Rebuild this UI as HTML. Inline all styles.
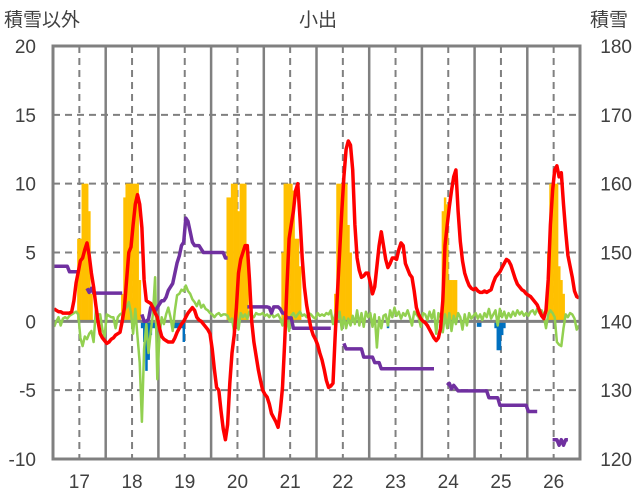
<!DOCTYPE html>
<html><head><meta charset="utf-8">
<style>
html,body{margin:0;padding:0;background:#fff;}
svg{display:block;font-family:"Liberation Sans","Noto Sans CJK JP",sans-serif;}
</style></head>
<body>
<svg id="chart" width="636" height="501" viewBox="0 0 636 501" xmlns="http://www.w3.org/2000/svg">
<rect x="0" y="0" width="636" height="501" fill="#fff"/>
<text x="4" y="26" font-size="19" fill="#404040">積雪以外</text>
<text x="318" y="26" font-size="19" fill="#404040" text-anchor="middle">小出</text>
<text x="590" y="26" font-size="19" fill="#404040">積雪</text>
<g id="grid"></g>
<g id="bars"></g>
<g id="lines"></g>
<g id="axes"></g>
</svg>
<script>
const dayLabels=["17","18","19","20","21","22","23","24","25","26"];
const leftTicks=[20,15,10,5,0,-5,-10];
const rightTicks=[180,170,160,150,140,130,120];
const temperature=[
0.9,0.8,0.7,0.7,0.6,0.6,0.6,0.6,0.7,1.5,2.8,3.6,4.4,4.6,5.2,5.7,4.8,3.5,2.5,1.2,0,-0.9,-1.2,-1.4,
-1.6,-1.5,-1.3,-1.2,-1.0,-0.9,-0.8,0,1,3,5,5.4,7,8.5,9.2,8.5,6.8,3,1.5,1.4,1.3,1.0,0.6,0.3,
-0.5,-1.1,-1.3,-1.4,-1.5,-1.5,-1.5,-1.2,-0.8,-0.5,-0.2,0,0.3,0.6,0.8,1.0,0.8,0.3,0.1,0,-0.2,-0.4,-0.6,-0.9,
-2,-3.5,-4.8,-5,-6.5,-7.8,-8.6,-7.5,-4.5,-2.3,-1,1,3.5,4.5,5,5.5,5.5,3,0,-1.5,-2.5,-3.5,-4.3,-5,
-5.3,-5.5,-6,-6.7,-7,-7.3,-7.7,-6.5,-4.8,-1.5,2.5,6,7,8,9.5,10,7.5,4.6,2.5,1.2,0.3,-0.5,-1.0,-1.3,
-1.7,-2.3,-2.8,-3.5,-4.3,-4.8,-4.7,-4.5,-1,2,5,8,10.5,12.5,13.1,12.8,11,7,4.6,3.7,3.2,3.3,3.5,3.5,
2.8,2.0,2.5,4,5.5,6.5,5.5,4.5,3.9,4.2,4.6,4.6,4.5,5.2,5.7,5.5,4.2,3.8,3.4,3.2,2.2,1.0,0.5,0.2,
0,-0.1,-0.3,-0.6,-0.9,-1.2,-1.4,-1.2,-0.5,1.5,5.5,7,8.3,9.5,10.5,11,8,5.8,4.4,3.5,3,2.6,2.4,2.3,
2.4,2.2,2.1,2.1,2.2,2.1,2.2,2.3,2.8,3.2,3.4,3.6,3.9,4.2,4.5,4.4,4.1,3.6,3.1,2.7,2.5,2.3,2.2,2.0,
1.9,1.8,1.6,1.4,1.2,0.8,0.4,0.2,0.8,3,7,9.5,11,11.3,10.5,10.8,8.5,6.5,4.8,4,3.2,2.2,1.8,1.7];
const wind=[
-0.4,0,0.3,-0.3,0.2,0.3,0.2,0.4,0.5,0.6,0.7,0.5,-1.2,-1.8,-1.1,-1.3,-0.9,-0.7,-1.5,0.8,0.5,0.5,-0.6,-1.1,
0.5,0.4,0.3,0.3,-0.5,0.3,0.5,0.6,0.8,1.0,1.4,0.6,-0.9,0.9,-1.1,-3,-7.3,-2,-0.2,-2.3,-0.8,0.5,3.2,-4.2,
-1,0.3,-0.2,0.5,1,0.3,-0.7,0.8,1.9,2,2.3,2.2,2.6,2.2,2.0,1.6,1.4,1.1,1.5,1.0,1.2,0.9,0.8,0.6,
0.5,0.3,0.5,0.6,0.4,0.5,0.5,0.4,0,0.2,-0.8,0.5,-0.6,0.6,0.3,0.5,0.2,0.7,0.4,0.3,0.6,0.5,0.5,0.6,
0.4,0.5,0.3,0.6,0.3,0.4,0.5,0.2,-0.3,0.4,0.2,-0.7,0.4,0.6,0.3,0.5,0.7,0.4,0.5,0.3,0.6,0.5,0.3,0.2,
0.6,0.4,0.5,0.4,0.6,0.5,0.8,-0.2,0.5,0.2,0.7,-0.6,0.3,-0.5,0.2,-0.3,0.4,-0.2,0.8,-0.3,0.6,-0.4,0.7,0.3,
0.6,-0.4,0.5,-1.9,0.3,-0.5,0.4,0.5,-0.3,0.8,0.3,1.0,0.4,0.7,0.2,0.6,0.4,0.8,0.3,-0.3,0.7,0.5,0.3,-0.4,
0.6,0.5,0.1,0.7,0.2,0.8,-0.9,0.6,0.3,-0.8,0.5,-0.5,0.6,-0.7,0.4,-0.2,0.6,0.3,-0.6,0.5,-0.3,0.6,0.2,0.4,
0.6,0.2,0.5,0.1,0.6,0.3,0.9,0.2,0.5,0.8,-0.3,0.9,0.3,0.7,0.2,0.6,0.3,0.7,0.4,0.8,0.5,0.7,0.4,0.6,
0.4,0.7,0.8,0.5,0.9,0.6,0.8,0.4,-0.5,0.5,0.8,0.6,0.3,-1.5,-1.7,-1.8,-0.5,0.5,0.3,0.6,0.5,0.2,-0.6,-0.3];
// sunshine bars: {hour: value}
const sunHours=[11,12,13,14,15,16,17, 31,32,33,34,35,36,37,38,39, 79,80,81,82,83,84,85,86,87,88, 104,105,106,107,108,109,110,111,112, 128,129,130,131,132,133,134,135, 177,178,179,180,181,182,183, 225,226,227,228,229,230,231,232];
const sunValues=[6,6,10,10,10,8,2, 2,9,10,10,10,10,10,10,3, 9,9,10,10,10,8,10,10,10,5, 5,10,10,10,10,9.5,6,6,4, 2,10,10,10,10,10,7,5, 8,9,8.5,3,3,3,3, 5,10,10,10,10,4,3,2];
const precipHours=[40,41,42,43,44,45,46,47,54,55,56,57,58,59,152,193,194,201,202,203,204,205];
const precipValues=[-0.5,-1.5,-3.6,-2.8,-1,-0.5,-0.5,-0.3,-0.5,-0.5,-0.5,-0.5,-0.5,-1.5,-0.5,-0.4,-0.4,-0.5,-2.1,-2.1,-1,-0.5];
const N=null;
const snowDepth=[
148,148,148,148,148,148,148,147.2,147.2,147.2,147.2,147.2,N,N,N,144.8,144.2,144.8,144.1,144.1,144.1,144.1,144.1,144.1,
144.1,144.1,144.1,144.1,144.1,144.1,144.1,144.1,N,N,N,N,N,N,N,N,141,140,140,140.3,142,142,141.5,142,
142.5,143,143,143.5,144.5,145,145.5,147,148.5,149.5,151,151.5,155,154.5,153,151.5,151,151,151,150.5,150,150,150,150,
150,150,150,150,150,150,149.2,149.2,N,N,N,N,N,N,N,N,142.1,142.1,142.1,142.1,142.1,142.1,142.1,142.1,
142.1,142.1,142,141.2,142.1,142.1,142.1,141.8,141.2,141.2,140.5,140.5,140.5,139,139,139,139,139,139,139,139,139,
139,139,139,139,139,139,139,139,139,N,N,N,N,N,136.8,136,136,136,136,136,136,136,136,134.8,
134.8,134.8,134.8,134.8,134,134,134,133.1,133.1,133.1,133.1,133.1,133.1,133.1,133.1,133.1,133.1,133.1,133.1,133.1,133.1,133.1,133.1,133.1,
133.1,133.1,133.1,133.1,133.1,133.1,133.1,133.1,N,N,N,N,N,130.7,131,130.2,130.7,130.3,129.9,129.9,129.9,129.9,129.9,129.9,
129.9,129.9,129.9,129.9,129.9,129.9,129.9,129.9,128.9,128.9,128.9,128.9,128.9,127.8,127.8,127.8,127.8,127.8,127.8,127.8,127.8,127.8,
127.8,127.8,127.8,127.8,126.9,126.9,126.9,126.9,126.9,N,N,N,N,N,N,122.8,122.8,122.8,122,122.8,122,122.8,122.8,N];

const X0=53,X1=580,Y0=46,Y1=459,HOURS=240;
const pxh=(X1-X0)/HOURS;
const xAt=h=>X0+(h+0.5)*pxh;
const yL=v=>Y0+(20-v)*(Y1-Y0)/30;
const yR=v=>Y0+(180-v)*(Y1-Y0)/60;
const NS="http://www.w3.org/2000/svg";
function mk(tag,parent,attrs){const e=document.createElementNS(NS,tag);for(const k in attrs)e.setAttribute(k,attrs[k]);parent.appendChild(e);return e;}
const grid=document.getElementById('grid'),bars=document.getElementById('bars'),lines=document.getElementById('lines'),axes=document.getElementById('axes');

// horizontal grid
leftTicks.forEach(t=>{
  if(t===20||t===-10||t===0)return;
  const l=mk('line',grid,{x1:X0,x2:X1,y1:yL(t),y2:yL(t),stroke:'#808080','stroke-width':2,'stroke-dasharray':'7,5'});
  
  
});
// vertical: solid at midnights, dashed at noon
for(let d=0;d<10;d++){
  const xm=X0+d*24*pxh;
  if(d>0){const l=mk('line',grid,{x1:xm,x2:xm,y1:Y0,y2:Y1,stroke:'#808080','stroke-width':2.5});
  
  }
  const xn=X0+(d*24+12)*pxh;
  const l2=mk('line',grid,{x1:xn,x2:xn,y1:Y0,y2:Y1,stroke:'#808080','stroke-width':2,'stroke-dasharray':'7,5'});
  
  
  const t=mk('text',axes,{x:xn,y:488,'font-size':19,fill:'#404040','text-anchor':'middle'});
  t.textContent=dayLabels[d];
  
  
}
// bars
sunHours.forEach((h,i)=>{
  const v=sunValues[i];
  const r=mk('rect',bars,{x:X0+h*pxh,y:yL(v),width:pxh+0.3,height:yL(0)-yL(v),fill:'#FFC000'});
  
  
});
precipHours.forEach((h,i)=>{
  const v=precipValues[i];
  const r=mk('rect',bars,{x:X0+h*pxh,y:yL(0),width:pxh+0.3,height:yL(v)-yL(0),fill:'#0070C0'});
  
  
});
// zero line
const z=mk('line',grid,{x1:X0,x2:X1,y1:yL(0),y2:yL(0),stroke:'#808080','stroke-width':3});


axes.before(z);
lines.before(z);
// lines
function path(arr,yf,color,w,name){
  let d='',pen=false;
  arr.forEach((v,h)=>{
    if(v===null){pen=false;return;}
    d+=(pen?'L':'M')+xAt(h).toFixed(1)+','+yf(v).toFixed(1);pen=true;
  });
  const p=mk('path',lines,{d:d,fill:'none',stroke:color,'stroke-width':w,'stroke-linejoin':'round','stroke-linecap':'butt'});
  
  
}
path(wind,yL,'#92D050',2.5,'wind-line');
path(snowDepth,yR,'#7030A0',3.5,'snow-depth-line');
path(temperature,yL,'#FF0000',3.5,'temperature-line');
// frame
const fr=mk('rect',axes,{x:X0,y:Y0,width:X1-X0,height:Y1-Y0,fill:'none',stroke:'#808080','stroke-width':3});


leftTicks.forEach(t=>{
  const e=mk('text',axes,{x:36,y:yL(t)+7,'font-size':19,fill:'#404040','text-anchor':'end'});
  e.textContent=String(t);
  
  
});
rightTicks.forEach(t=>{
  const e=mk('text',axes,{x:632,y:yR(t)+7,'font-size':19,fill:'#404040','text-anchor':'end'});
  e.textContent=String(t);
  
  
});
</script>
</body></html>
